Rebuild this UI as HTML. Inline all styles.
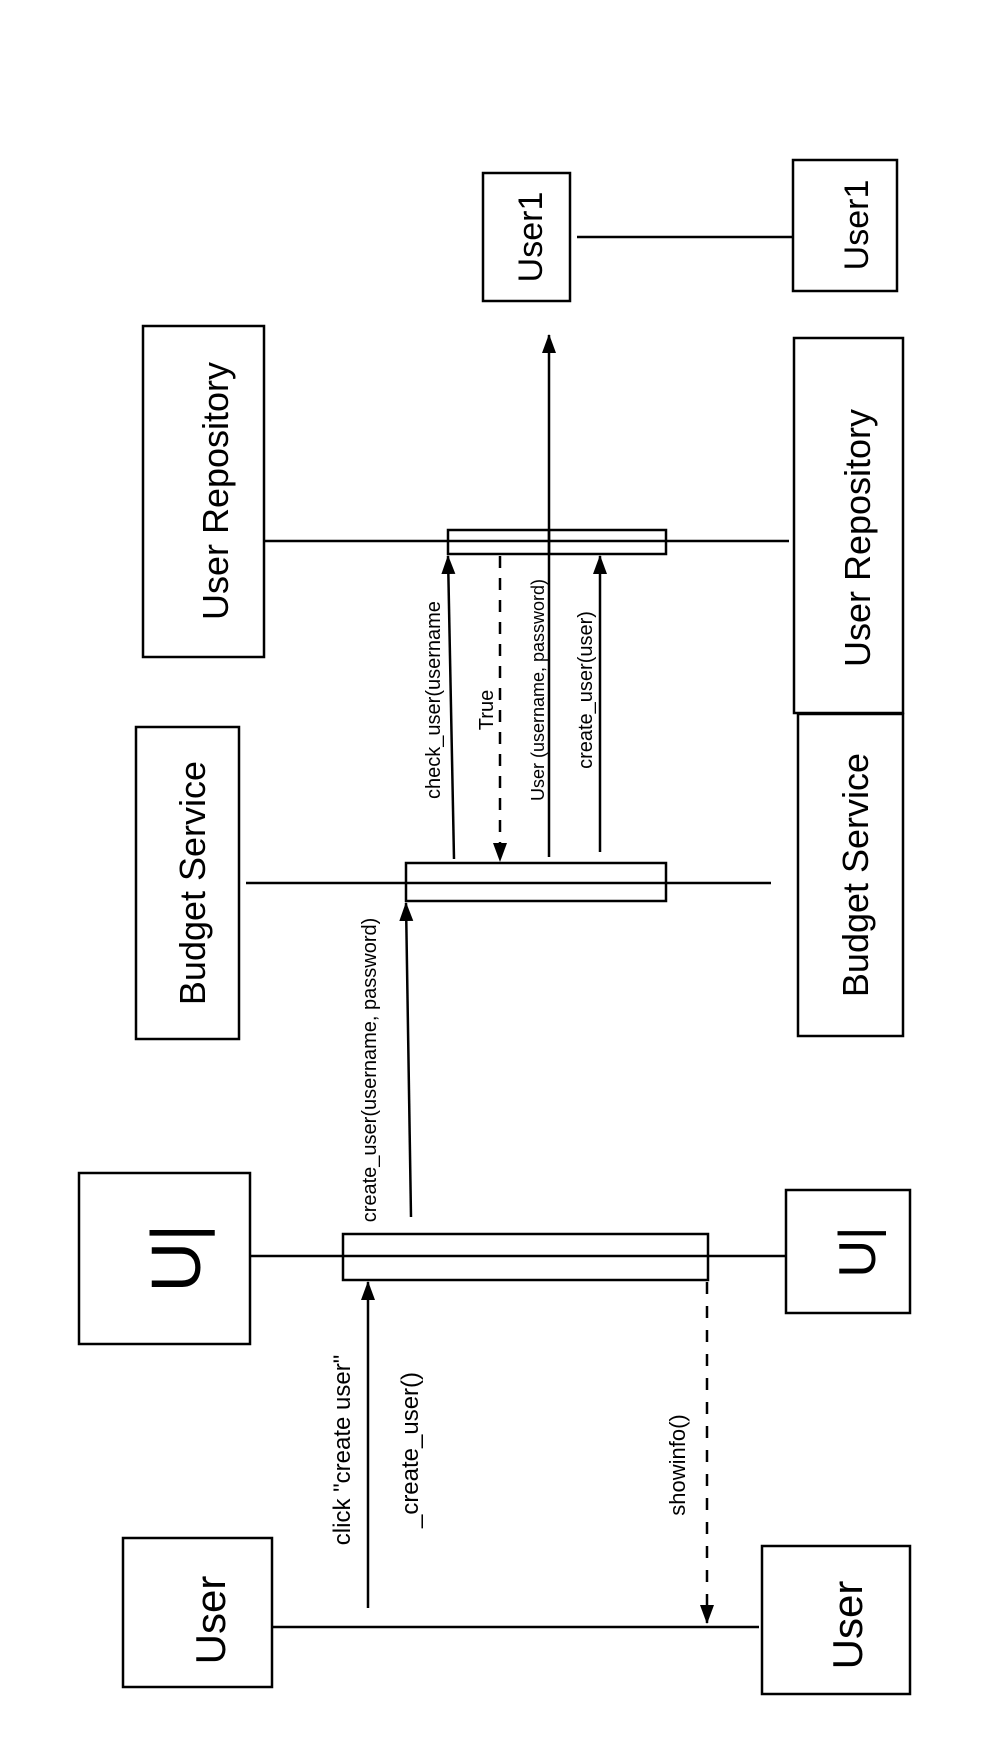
<!DOCTYPE html>
<html><head><meta charset="utf-8"><style>html,body{margin:0;padding:0;background:#fff}svg{display:block}</style></head>
<body>
<svg width="1000" height="1742" viewBox="0 0 1000 1742" xmlns="http://www.w3.org/2000/svg" font-family="Liberation Sans, sans-serif">
<defs>
<marker id="ah" viewBox="0 0 20 16" refX="18" refY="8" markerWidth="20" markerHeight="16" orient="auto" markerUnits="userSpaceOnUse"><path d="M0,1 L19,8 L0,15 z" fill="#000"/></marker>
</defs>
<g fill="none" stroke="#000" stroke-width="2.5">
<rect x="123" y="1538" width="149" height="149"/>
<rect x="762" y="1546" width="148" height="148"/>
<rect x="79" y="1173" width="171" height="171"/>
<rect x="786" y="1190" width="124" height="123"/>
<rect x="136" y="727" width="103" height="312"/>
<rect x="798" y="714" width="105" height="322"/>
<rect x="143" y="326" width="121" height="331"/>
<rect x="794" y="338" width="109" height="375"/>
<rect x="483" y="173" width="87" height="128"/>
<rect x="793" y="160" width="104" height="131"/>
<line x1="272" y1="1627" x2="759" y2="1627"/>
<line x1="250" y1="1256" x2="786" y2="1256"/>
<line x1="246" y1="883" x2="771" y2="883"/>
<line x1="264" y1="541" x2="789" y2="541"/>
<line x1="577" y1="237" x2="792" y2="237"/>
<rect x="343" y="1234" width="365" height="46" fill="#fff"/>
<line x1="343" y1="1256" x2="708" y2="1256"/>
<rect x="406" y="863" width="260" height="38" fill="#fff"/>
<line x1="406" y1="883" x2="666" y2="883"/>
<rect x="448" y="530" width="218" height="24" fill="#fff"/>
<line x1="448" y1="541" x2="666" y2="541"/>
<line x1="368" y1="1608" x2="368" y2="1282" marker-end="url(#ah)"/>
<line x1="411" y1="1217" x2="406" y2="903" marker-end="url(#ah)"/>
<line x1="454" y1="859" x2="448" y2="556" marker-end="url(#ah)"/>
<line x1="500" y1="556" x2="500" y2="861" stroke-dasharray="12,10" marker-end="url(#ah)"/>
<line x1="549" y1="857" x2="549" y2="335" marker-end="url(#ah)"/>
<line x1="600" y1="852" x2="600" y2="556" marker-end="url(#ah)"/>
<line x1="707" y1="1282" x2="707" y2="1623" stroke-dasharray="12,12" marker-end="url(#ah)"/>
<line x1="549" y1="530" x2="549" y2="554"/>
</g>
<g fill="#000" text-anchor="middle">
<text transform="translate(225,1620) rotate(-90)" font-size="42">User</text>
<text transform="translate(862,1625) rotate(-90)" font-size="42">User</text>
<text transform="translate(200,1258) rotate(-90)" font-size="70">U|</text>
<text transform="translate(875,1252) rotate(-90)" font-size="52">U|</text>
<text transform="translate(205,883) rotate(-90)" font-size="36">Budget Service</text>
<text transform="translate(868,875) rotate(-90)" font-size="36">Budget Service</text>
<text transform="translate(228,491) rotate(-90)" font-size="36">User Repository</text>
<text transform="translate(870,538) rotate(-90)" font-size="36">User Repository</text>
<text transform="translate(542,237) rotate(-90)" font-size="34">User1</text>
<text transform="translate(868,225) rotate(-90)" font-size="34">User1</text>
<text transform="translate(350,1450) rotate(-90)" font-size="24">click "create user"</text>
<text transform="translate(418,1450) rotate(-90)" font-size="24">_create_user()</text>
<text transform="translate(376,1070) rotate(-90)" font-size="20">create_user(username, password)</text>
<text transform="translate(440,700) rotate(-90)" font-size="20">check_user(username</text>
<text transform="translate(493,710) rotate(-90)" font-size="20">True</text>
<text transform="translate(544,690) rotate(-90)" font-size="18">User (username, password)</text>
<text transform="translate(592,690) rotate(-90)" font-size="20">create_user(user)</text>
<text transform="translate(685,1465) rotate(-90)" font-size="22">showinfo()</text>
</g>
</svg>
</body></html>
